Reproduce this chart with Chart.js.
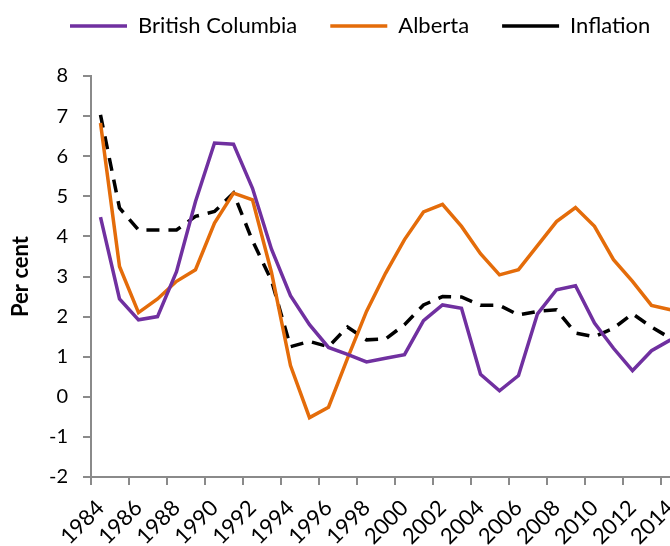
<!DOCTYPE html>
<html>
<head>
<meta charset="utf-8">
<script src="https://cdn.jsdelivr.net/npm/chart.js@4/dist/chart.umd.min.js"></script>
<style>
html, body { margin: 0; padding: 0; background: #ffffff; overflow: hidden; }
#wrap { width: 670px; height: 546px; overflow: hidden; position: relative; }
canvas { display: block; }
</style>
</head>
<body>
<div id="wrap"><canvas id="c" width="680" height="546"></canvas></div>
<script>
const years = ['1984','1985','1986','1987','1988','1989','1990','1991','1992','1993',
  '1994','1995','1996','1997','1998','1999','2000','2001','2002','2003',
  '2004','2005','2006','2007','2008','2009','2010','2011','2012','2013','2014'];

const bcValues = [4.48, 2.44, 1.92, 2.00, 3.12, 4.87, 6.33, 6.30, 5.20, 3.68,
  2.52, 1.80, 1.23, 1.06, 0.87, 0.96, 1.05, 1.90, 2.29, 2.21,
  0.56, 0.15, 0.53, 2.07, 2.67, 2.77, 1.84, 1.21, 0.65, 1.15, 1.42];

const albertaValues = [6.83, 3.25, 2.10, 2.44, 2.88, 3.17, 4.33, 5.08, 4.91, 3.10,
  0.78, -0.52, -0.26, 0.96, 2.13, 3.08, 3.92, 4.61, 4.80, 4.25,
  3.57, 3.04, 3.17, 3.77, 4.37, 4.72, 4.25, 3.42, 2.88, 2.28, 2.17];

const inflationValues = [7.03, 4.71, 4.16, 4.16, 4.16, 4.50, 4.62, 5.08, 3.89, 2.90,
  1.25, 1.38, 1.25, 1.74, 1.42, 1.44, 1.80, 2.29, 2.50, 2.49,
  2.28, 2.28, 2.04, 2.13, 2.17, 1.59, 1.50, 1.71, 2.07, 1.74, 1.46];

const seriesNames = ['British Columbia', 'Alberta', 'Inflation'];
const yAxisTitle = 'Per cent';
const yMin = -2, yMax = 8, yStep = 1;

const FONT = 'Lato, "Open Sans", sans-serif';
const AXIS_GREY = '#8a8a8a';

const legendSpacer = {
  id: 'legendSpacer',
  beforeLayout(chart) {
    const lg = chart.legend;
    if (lg && !lg._spacerPatched) {
      const origFit = lg.fit.bind(lg);
      lg.fit = function () { origFit(); this.height += 29; };
      lg._spacerPatched = true;
    }
  },
  afterLayout(chart) {
    const lg = chart.legend;
    if (lg) {
      const w = lg.right - lg.left;
      lg.left = 37;
      lg.right = 37 + w;
    }
  }
};

new Chart(document.getElementById('c'), {
  type: 'line',
  data: {
    labels: years,
    datasets: [
      { label: seriesNames[0], data: bcValues, borderColor: '#7030A0', backgroundColor: '#7030A0',
        borderWidth: 3.5, pointRadius: 0, tension: 0, fill: false },
      { label: seriesNames[1], data: albertaValues, borderColor: '#E46C0A', backgroundColor: '#E46C0A',
        borderWidth: 3.5, pointRadius: 0, tension: 0, fill: false },
      { label: seriesNames[2], data: inflationValues, borderColor: '#000000', backgroundColor: '#000000',
        borderWidth: 3.5, borderDash: [13, 9], pointRadius: 0, tension: 0, fill: false }
    ]
  },
  options: {
    responsive: false,
    animation: false,
    devicePixelRatio: 1,
    layout: { padding: { top: -18, left: 0, right: 0, bottom: 0 } },
    plugins: {
      legend: {
        position: 'top',
        align: 'start',
        labels: { boxWidth: 57, boxHeight: 0, padding: 33, color: '#000000',
          font: { family: FONT, size: 22 } }
      },
      tooltip: { enabled: false }
    },
    scales: {
      x: {
        type: 'category',
        offset: true,
        grid: { offset: true, drawOnChartArea: false, drawTicks: true, tickLength: 8, lineWidth: 2,
          color: (c) => (c.index % 2 === 0 ? AXIS_GREY : 'rgba(0,0,0,0)') },
        border: { color: AXIS_GREY, width: 2 },
        ticks: {
          autoSkip: false, maxRotation: 45, minRotation: 45, padding: 10, color: '#000000',
          font: { family: FONT, size: 22 },
          callback: (v, i) => (i % 2 === 0 ? years[i] : '')
        },
        afterFit: (s) => { s.height = 69; s.paddingLeft = 0; s.paddingRight = 0; }
      },
      y: {
        min: yMin, max: yMax,
        ticks: { stepSize: yStep, padding: 15, color: '#000000', font: { family: FONT, size: 20 } },
        grid: { drawOnChartArea: false, drawTicks: true, tickLength: 8, lineWidth: 2, color: AXIS_GREY },
        border: { color: AXIS_GREY, width: 2 },
        title: { display: true, text: yAxisTitle, color: '#000000',
          font: { family: FONT, size: 22, weight: 'bold' }, padding: { top: 8, bottom: 0 } },
        afterFit: (s) => { s.width = 91; }
      }
    }
  },
  plugins: [legendSpacer]
});
</script>
</body>
</html>
